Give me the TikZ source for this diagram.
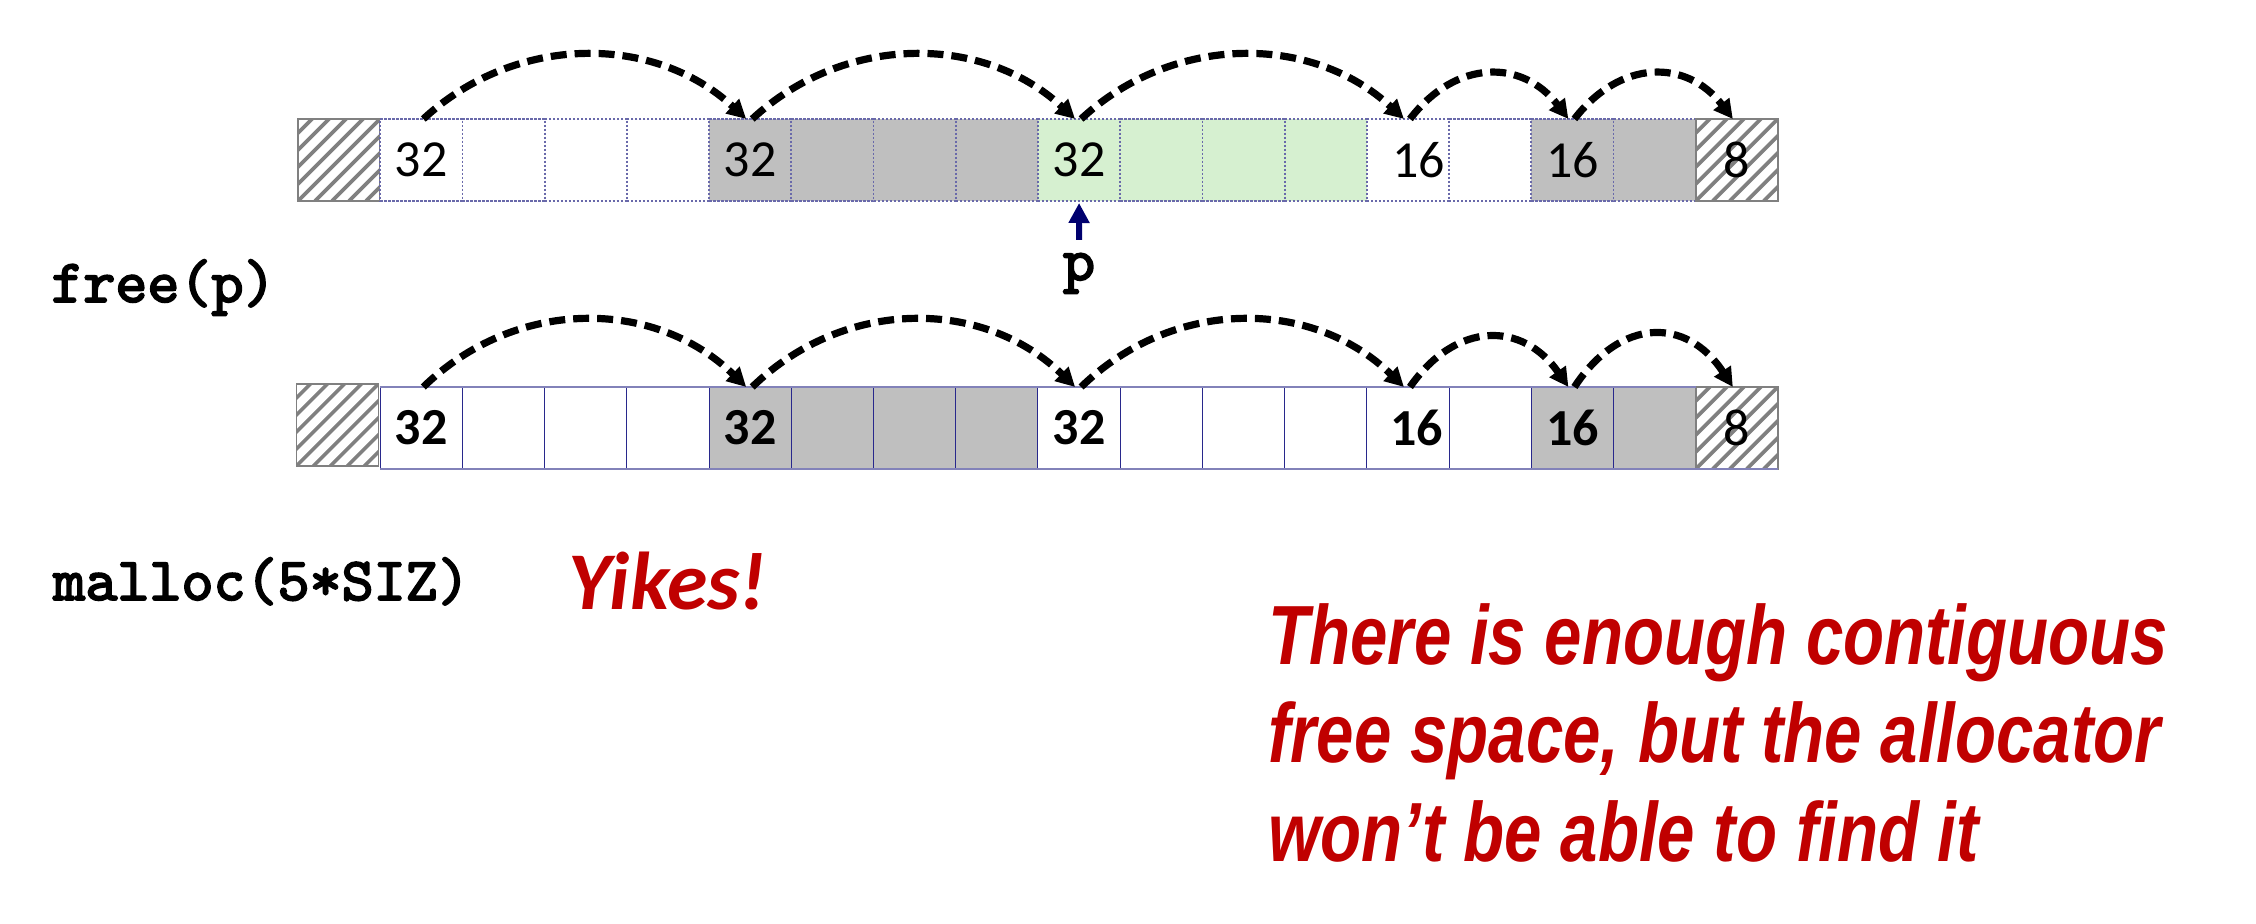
\documentclass[tikz,border=0pt]{standalone}
\usepackage{fontspec}
\setmainfont{Carlito}
\newfontfamily\calib{Carlito}
\newfontfamily\monobf[FakeBold=3]{lmmono10-regular.otf}
\newfontfamily\narrowsans[FakeStretch=0.8]{Liberation Sans}
\usetikzlibrary{arrows.meta}
\definecolor{cellgray}{RGB}{191,191,191}
\definecolor{cellgreen}{RGB}{214,240,208}
\definecolor{hatchgray}{RGB}{128,128,128}
\definecolor{dotblue}{RGB}{105,105,170}
\definecolor{navyline}{RGB}{40,40,140}
\definecolor{lavender}{RGB}{130,130,185}
\definecolor{ptrnavy}{RGB}{0,0,110}
\definecolor{alertred}{RGB}{192,0,0}
\begin{document}
\begin{tikzpicture}[x=0.5pt,y=-0.5pt,
  cell/.style={rectangle, minimum width=41.11pt, minimum height=41pt, inner sep=0pt, outer sep=0pt,
    font=\calib\fontsize{26}{26}\selectfont},
  rowone/.style={cell, draw=dotblue, line width=0.9pt, dash pattern=on 1.2pt off 0.8pt},
  rowtwo/.style={cell, draw=navyline, line width=0.5pt, font=\calib\bfseries\fontsize{26}{26}\selectfont},
  hatched/.style={cell, fill=white, draw=hatchgray, line width=0.8pt,
    path picture={
      \foreach \k in {-5,...,5} {
        \draw[solid, hatchgray, line width=1.8pt]
          ([xshift=\k*8.5pt]path picture bounding box.south west) -- ++(46pt,46pt);
      }
    }},
  arc/.style={draw=black, line width=3.6pt, dash pattern=on 8pt off 4pt,
    -{Triangle[length=9.5pt,width=9.5pt]}},
  ptr/.style={draw=ptrnavy, line width=3pt, -{Triangle[length=10pt,width=10pt]}},
  mono/.style={inner sep=0pt, font=\monobf\fontsize{30.5}{30.5}\selectfont},
  redtext/.style={inner sep=0pt, text=alertred, font=\narrowsans\bfseries\itshape\fontsize{42}{42}\selectfont}
]
\useasboundingbox (0,0) rectangle (2256,924);

% ---- row 1 ----
\node[hatched] (r1c0) at (339.11,160) {};
\foreach \j/\f/\t in {1/white/32, 2/white/{}, 3/white/{}, 4/white/{},
                      5/cellgray/32, 6/cellgray/{}, 7/cellgray/{}, 8/cellgray/{},
                      9/cellgreen/32, 10/cellgreen/{}, 11/cellgreen/{}, 12/cellgreen/{},
                      13/white/{\hspace*{11pt}16}, 14/white/{}, 15/cellgray/16, 16/cellgray/{}}
  \node[rowone, fill=\f] (r1c\j) at ({339.11+82.22*\j},160) {\t};
\node[hatched] (r1c17) at ({339.11+82.22*17},160) {8};

% ---- row 2 ----
\node[hatched] (r2c0) at (337.5,425) {};
\foreach \j/\f/\t in {1/white/32, 2/white/{}, 3/white/{}, 4/white/{},
                      5/cellgray/32, 6/cellgray/{}, 7/cellgray/{}, 8/cellgray/{},
                      9/white/32, 10/white/{}, 11/white/{}, 12/white/{},
                      13/white/{\hspace*{9pt}\raisebox{-1.5pt}{16}}, 14/white/{}, 15/cellgray/16, 16/cellgray/{}}
  \node[rowtwo, fill=\f] (r2c\j) at ({339.11+82.22*\j},428) {\t};
\node[hatched] (r2c17) at ({339.11+82.22*17},428) {8};
\draw[lavender, line width=1.4pt] (r2c1.north west) -- (r2c16.north east);
\draw[lavender, line width=1.4pt] (r2c1.south west) -- (r2c17.south east);

% ---- free-list arcs, row 1 ----
\draw[arc] ([xshift=1pt]r1c1.north) .. controls +(46pt,42.7pt) and +(-46pt,42.7pt) .. ([xshift=-2pt]r1c5.north);
\draw[arc] ([xshift=1pt]r1c5.north) .. controls +(46pt,42.7pt) and +(-46pt,42.7pt) .. ([xshift=-2pt]r1c9.north);
\draw[arc] ([xshift=1pt]r1c9.north) .. controls +(46pt,42.7pt) and +(-46pt,42.7pt) .. ([xshift=-2pt]r1c13.north);
\draw[arc] ([xshift=1pt]r1c13.north) .. controls +(23pt,30pt) and +(-23pt,30pt) .. ([xshift=-2pt]r1c15.north);
\draw[arc] ([xshift=1pt]r1c15.north) .. controls +(23pt,30pt) and +(-23pt,30pt) .. ([xshift=-2pt]r1c17.north);

% ---- free-list arcs, row 2 ----
\draw[arc] ([xshift=1pt]r2c1.north) .. controls +(46pt,44.7pt) and +(-46pt,44.7pt) .. ([xshift=-2pt]r2c5.north);
\draw[arc] ([xshift=1pt]r2c5.north) .. controls +(46pt,44.7pt) and +(-46pt,44.7pt) .. ([xshift=-2pt]r2c9.north);
\draw[arc] ([xshift=1pt]r2c9.north) .. controls +(46pt,44.7pt) and +(-46pt,44.7pt) .. ([xshift=-2pt]r2c13.north);
\draw[arc] ([xshift=1pt]r2c13.north) .. controls +(23pt,33pt) and +(-23pt,33pt) .. ([xshift=-2pt]r2c15.north);
\draw[arc] ([xshift=1pt]r2c15.north) .. controls +(23pt,35pt) and +(-23pt,35pt) .. ([xshift=-2pt]r2c17.north);

% ---- pointer p ----
\node[mono, anchor=base] (plabel) at (1079,280) {p};
\draw[ptr, shorten <=6.5pt, shorten >=1pt] (plabel.north) -- (r1c9.south);

% ---- labels ----
\node[mono, anchor=base west] (freep) at (51,302) {free(p)};
\node[mono, anchor=base west] (malloc) at (53,600) {malloc(5*SIZ)};
\node[inner sep=0pt, anchor=base west, text=alertred, font=\calib\bfseries\itshape\fontsize{41}{41}\selectfont] (yikes) at (568,610) {Yikes!};
\node[redtext, anchor=base west] (msg1) at (1268,665) {There is enough contiguous};
\node[redtext, anchor=base west] (msg2) at (1268,763) {free space, but the allocator};
\node[redtext, anchor=base west] (msg3) at (1268,862) {won’t be able to find it};
\end{tikzpicture}
\end{document}
